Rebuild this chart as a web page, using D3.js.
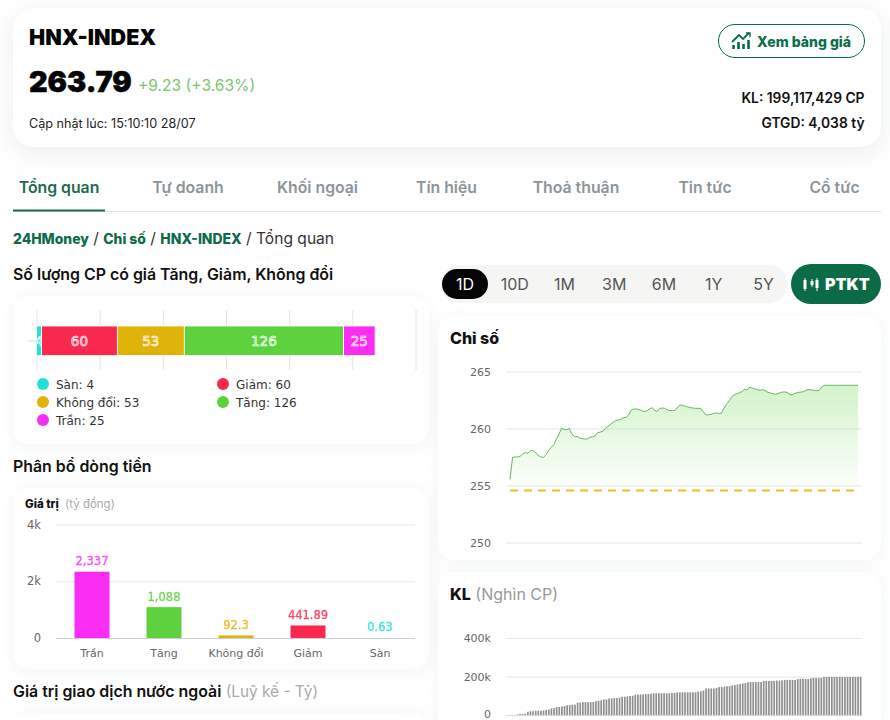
<!DOCTYPE html>
<html><head><meta charset="utf-8">
<script src="https://cdn.jsdelivr.net/npm/d3@7/dist/d3.min.js"></script>
<style>
html,body{margin:0;padding:0;background:#fff;overflow:hidden}
svg{display:block;font-family:Inter,sans-serif}
.axis .domain{display:none}
</style></head><body><div id="c"></div>
<script>
const tabs=["Tổng quan","Tự doanh","Khối ngoại","Tín hiệu","Thoả thuận","Tin tức","Cổ tức"];
const periods=["1D","10D","1M","3M","6M","1Y","5Y"];
const countNames=["Sàn","Giảm","Không đổi","Tăng","Trần"];
const countValues=[4,60,53,126,25];
const stateColors=["#22e0d4","#f8284f","#e0b30a","#5ed23e","#fb2df2"];
const flowNames=["Trần","Tăng","Không đổi","Giảm","Sàn"];
const flowValues=[2337,1088,92.3,441.89,0.63];
const flowLabels=["2,337","1,088","92.3","441.89","0.63"];
const flowColors=["#fb2df2","#5ed23e","#e0b30a","#f8284f","#22e0d4"];
const refPrice=254.56;
const indexValues=[255.54,257.47,257.50,257.50,257.56,257.79,257.88,257.82,258.09,258.03,257.85,257.62,257.50,257.47,257.71,258.09,258.35,258.58,259.05,259.52,259.99,259.93,259.90,260.02,259.52,259.31,259.31,259.17,259.11,259.08,259.08,259.23,259.28,259.34,259.64,259.69,259.75,260.02,260.19,260.37,260.54,260.69,260.75,260.81,260.95,260.98,261.19,261.62,261.71,261.71,261.68,261.59,261.48,261.54,261.68,261.83,261.62,261.48,261.74,261.80,261.77,261.65,261.57,261.57,261.59,261.86,262.06,262.03,261.95,261.89,261.83,261.80,261.77,261.77,261.77,261.48,261.19,261.21,261.24,261.33,261.36,261.33,261.33,261.77,262.12,262.41,262.79,262.94,263.06,263.14,263.23,263.44,263.38,263.64,263.55,263.47,263.41,263.35,263.41,263.32,263.17,263.12,263.06,263.00,263.06,263.17,263.20,263.20,263.09,262.94,263.03,263.12,263.17,263.20,263.23,263.38,263.41,263.38,263.35,263.32,263.35,263.67,263.79,263.79,263.79,263.79,263.79,263.79,263.79,263.79,263.79,263.79,263.79,263.79,263.79,263.79];
const volumeValues=[1,2,2,2,4,7,7,9,18,21,21,23,23,23,25,28,30,36,37,43,43,46,48,52,53,55,55,66,66,68,68,68,68,69,73,76,78,82,82,87,87,89,89,92,96,96,98,100,101,107,107,108,108,110,110,112,114,114,114,114,114,114,114,116,116,119,119,119,119,119,119,119,119,124,124,128,139,139,139,139,142,146,146,149,151,151,155,156,160,162,165,167,171,172,172,172,172,172,178,178,178,178,178,180,180,181,183,183,183,183,183,187,188,188,188,188,192,194,194,194,194,199,199,199,199,199,199,199,199,199,199,199,199,199,199,199];
const indexTicks=[250,255,260,265];
const volumeTicks=[0,200,400];
const flowTicks=[0,2000,4000];

const DJ='"DejaVu Sans",sans-serif';
const svg=d3.select("#c").append("svg").attr("width",890).attr("height",720);
const defs=svg.append("defs");
const grad=defs.append("linearGradient").attr("id","ga").attr("x1",0).attr("x2",0).attr("y1",0).attr("y2",1);
grad.append("stop").attr("offset",0).attr("stop-color","#5ed23e").attr("stop-opacity",.27);
grad.append("stop").attr("offset",1).attr("stop-color","#5ed23e").attr("stop-opacity",.01);

function card(x,y,w,h,r,sh){svg.append("rect").attr("x",x).attr("y",y).attr("width",w).attr("height",h).attr("rx",r).attr("fill","#fff").style("filter",sh||"drop-shadow(0 2px 8px rgba(120,140,160,.09))");}
function T(x,y,s,size,weight,fill,anchor,fam){const t=svg.append("text").attr("x",x).attr("y",y).attr("font-size",size).attr("font-weight",weight).attr("fill",fill).attr("text-anchor",anchor||"start").text(s);if(fam)t.style("font-family",fam);return t;}

// header card
card(13,8,868,139,20,"drop-shadow(0 6px 12px rgba(110,130,150,.14))");
T(29,45,"HNX-INDEX",21.5,900,"#050505");
T(29,91.5,"263.79",28.8,900,"#050505").attr("stroke","#050505").attr("stroke-width",.5);
T(138,91,"+9.23 (+3.63%)",15.6,400,"#78c76c");
T(29,128,"Cập nhật lúc: 15:10:10 28/07",12.6,400,"#222");
svg.append("rect").attr("x",718.5).attr("y",24.5).attr("width",146).attr("height",33).attr("rx",16.5).attr("fill","#fff").attr("stroke","#0b6b46");
const ic=svg.append("g").attr("stroke","#0b6b46").attr("fill","none");
ic.append("path").attr("d","M732 42 L739 35 L743 39 L749 33").attr("stroke-width",1.8);
ic.append("path").attr("d","M746 33 h4 v4").attr("stroke-width",1.4);
ic.append("path").attr("d","M733.5 49 v-4 M738.5 49 v-7 M743.5 49 v-5 M748.5 49 v-9").attr("stroke-width",2.6);
T(757,47,"Xem bảng giá",14,800,"#0b6e4a");
T(864.5,103,"KL: 199,117,429 CP",13.8,600,"#111","end");
T(864.5,128,"GTGD: 4,038 tỷ",13.8,600,"#111","end");

// tabs
const tabX=[59,188,317.5,446.5,576,705,834.5];
tabs.forEach((t,i)=>T(tabX[i],193,t,15.8,600,i?"#8d9499":"#1d6a50","middle"));
svg.append("rect").attr("x",13).attr("y",211).attr("width",868).attr("height",1).attr("fill","#e0e3e5");
svg.append("rect").attr("x",13).attr("y",209.5).attr("width",92).attr("height",2).attr("fill","#1a6a50");

// breadcrumb
const bc=svg.append("text").attr("x",13).attr("y",244).attr("font-size",15).attr("fill","#222").attr("xml:space","preserve");
[["24HMoney",1],[" / ",0],["Chỉ số",1],[" / ",0],["HNX-INDEX",1],[" / Tổng quan",0]].forEach(p=>{
  bc.append("tspan").attr("fill",p[1]?"#0b6b4a":"#333").attr("font-weight",p[1]?800:400).attr("font-size",p[1]?13.9:15.6).text(p[0]);
});

// stacked count card
T(13,280,"Số lượng CP có giá Tăng, Giảm, Không đổi",15.9,600,"#111");
card(13,296,416,148,16);
const xCount=d3.scaleLinear().domain([0,300]).range([36.5,415.5]);
const gridG=svg.append("g").attr("class","axis").attr("transform","translate(0,370)").call(d3.axisTop(xCount).tickValues(d3.range(0,301,50)).tickSize(60).tickFormat(""));
gridG.selectAll("line").attr("stroke","#e2e4e8");
svg.append("line").attr("x1",27).attr("x2",36.5).attr("y1",341).attr("y2",341).attr("stroke","#d5d8dc");
let acc=0;
countValues.forEach((v,i)=>{
  const a=acc;acc+=v;
  svg.append("rect").attr("x",xCount(a)).attr("y",326).attr("width",xCount(acc)-xCount(a)).attr("height",29.5).attr("fill",stateColors[i]).attr("stroke","#fff").attr("stroke-width",.8);
  T((xCount(a)+xCount(acc))/2,345.5,v,13.5,400,stateColors[i],"middle",DJ).attr("stroke","#fff").attr("stroke-width",.7);
});
const legX=[43,223,43,223,43],legY=[384,384,402,402,420];
countNames.forEach((n,i)=>{
  svg.append("circle").attr("cx",legX[i]).attr("cy",legY[i]).attr("r",6).attr("fill",stateColors[i]);
  T(legX[i]+13,legY[i]+4.5,n+": "+countValues[i],12,400,"#333","start",DJ);
});

// flow card
T(13,472,"Phân bổ dòng tiền",15.9,600,"#111");
card(13,488,416,181,16);
T(25,508,"Giá trị",11.5,800,"#111");
T(65,508,"(tỷ đồng)",11.5,400,"#aaa");
const xFlow=d3.scaleBand().domain(flowNames).range([56,416]);
const yFlow=d3.scaleLinear().domain([0,4000]).range([638,524.5]);
const gy=svg.append("g").attr("class","axis").attr("transform","translate(56,0)").call(d3.axisLeft(yFlow).tickValues(flowTicks).tickSize(-359).tickPadding(15).tickFormat(d=>d?d/1000+"k":"0"));
gy.selectAll("line").attr("stroke","#e4e6ea");
gy.selectAll("text").attr("fill","#666").attr("font-size",11.5).style("font-family",DJ);
const gx=svg.append("g").attr("class","axis").attr("transform","translate(0,638)").call(d3.axisBottom(xFlow).tickSize(0).tickPadding(11));
gx.selectAll("text").attr("fill","#666").attr("font-size",11).style("font-family",DJ);
flowNames.forEach((n,i)=>{
  const bx=xFlow(n)+xFlow.bandwidth()/2;
  svg.append("rect").attr("x",bx-17.5).attr("y",yFlow(flowValues[i])).attr("width",35).attr("height",638-yFlow(flowValues[i])).attr("fill",flowColors[i]);
  T(bx,yFlow(flowValues[i])-6.5,flowLabels[i],11.5,400,flowColors[i],"middle",DJ).attr("stroke",flowColors[i]).attr("stroke-width",.35).attr("opacity",.85);
});
svg.append("line").attr("x1",56).attr("x2",415).attr("y1",638.5).attr("y2",638.5).attr("stroke","#ccd0d8");

// foreign heading
const fh=T(13,697,"Giá trị giao dịch nước ngoài",15.9,600,"#111").attr("xml:space","preserve");
fh.append("tspan").attr("fill","#aaa").attr("font-weight",400).attr("font-size",15.4).text(" (Luỹ kế - Tỷ)");
card(13,713,416,40,16);

// period selector
svg.append("rect").attr("x",441).attr("y",265).attr("width",347).attr("height",38).attr("rx",19).attr("fill","#f5f5f4");
svg.append("rect").attr("x",442).attr("y",269).attr("width",46).attr("height",30).attr("rx",15).attr("fill","#050505");
const xPeriod=d3.scalePoint().domain(periods).range([465,763.5]);
periods.forEach((p,i)=>T(xPeriod(p),290,p,16,400,i?"#555":"#fff","middle"));
svg.append("rect").attr("x",791).attr("y",264).attr("width",90).attr("height",40).attr("rx",20).attr("fill","#0b6b46");
const cs=svg.append("g").attr("stroke","#fff").attr("fill","#fff");
cs.append("path").attr("d","M805 278 v13 M812 279 v8 M817 278 v13").attr("stroke-width",1);
cs.append("path").attr("d","M805 280 v9 M812 281 v4 M817 280 v8").attr("stroke-width",3);
T(825,290,"PTKT",16,900,"#fff");

// index card
card(438,316,443,244,16);
T(450,344,"Chỉ số",16,800,"#111");
const slots=indexValues.map((d,i)=>i);
const xLine=d3.scalePoint().domain(slots).range([510,858]);
const yIndex=d3.scaleLinear().domain([250,265]).range([542.5,371.5]);
const giy=svg.append("g").attr("class","axis").attr("transform","translate(506,0)").call(d3.axisLeft(yIndex).tickValues(indexTicks).tickSize(-356).tickPadding(15));
giy.selectAll("line").attr("stroke","#e4e6ea");
giy.selectAll("text").attr("fill","#666").attr("font-size",11).style("font-family",DJ);
const area=d3.area().x((d,i)=>xLine(i)).y0(yIndex(refPrice)).y1(d=>yIndex(d));
const line=d3.line().x((d,i)=>xLine(i)).y(d=>yIndex(d));
svg.append("path").datum(indexValues).attr("d",area).attr("fill","url(#ga)");
svg.append("path").datum(indexValues).attr("d",line).attr("fill","none").attr("stroke","#6cb566").attr("stroke-width",1);
svg.append("line").attr("x1",510).attr("x2",856).attr("y1",yIndex(refPrice)).attr("y2",yIndex(refPrice)).attr("stroke","#e4c22a").attr("stroke-width",2).attr("stroke-dasharray","8 6");

// volume card
card(438,572,443,170,16);
const kl=T(450,600,"KL",16,800,"#111").attr("xml:space","preserve");
kl.append("tspan").attr("fill","#999").attr("font-weight",400).text(" (Nghìn CP)");
const xVol=d3.scaleBand().domain(slots).range([506,861.5]).paddingInner(.36);
const yVol=d3.scaleLinear().domain([0,400]).range([715.3,638]);
const gvy=svg.append("g").attr("class","axis").attr("transform","translate(506,0)").call(d3.axisLeft(yVol).tickValues(volumeTicks).tickSize(-356).tickPadding(15).tickFormat(d=>d?d+"k":"0"));
gvy.selectAll("line").attr("stroke","#e4e6ea");
gvy.selectAll("text").attr("fill","#666").attr("font-size",11).style("font-family",DJ).attr("y",d=>d?0:-1.5);
svg.append("g").selectAll("rect").data(volumeValues).join("rect")
  .attr("x",(d,i)=>xVol(i)).attr("width",xVol.bandwidth()).attr("y",d=>yVol(d)).attr("height",d=>715.3-yVol(d)).attr("fill","#8f8f8f");
</script></body></html>
